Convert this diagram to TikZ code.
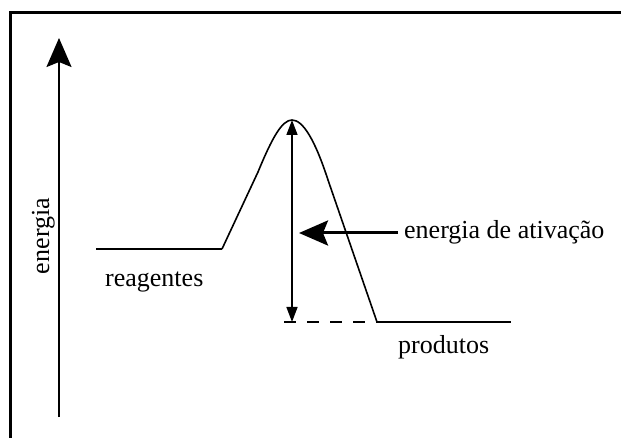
\documentclass[tikz,border=0pt]{standalone}
\usepackage{fontspec}
\setmainfont{Liberation Serif}
\usetikzlibrary{arrows.meta}

\begin{document}
\begin{tikzpicture}[x=1pt, y=-1pt,
    lbl/.style={font=\fontsize{26}{31}\selectfont, inner sep=0pt},
    level/.style={line width=2pt}]
  \useasboundingbox (0, 0) rectangle (621, 438);
  \draw [line width=3pt] (10.5, 438) -- (10.5, 12.5) -- (621, 12.5);

  % eixo de energia
  \coordinate (ybot) at (59, 417);
  \coordinate (ytop) at (59, 38);
  \draw [line width=2pt, -{Stealth[length=29pt, width=25pt, inset=5pt]}] (ybot) -- (ytop);
  \node [lbl, rotate=90, anchor=base] (energia) at (49, 236) {energia};

  % caminho da reacao
  \coordinate (rstart) at (96, 249);
  \coordinate (rend) at (222, 249);
  \coordinate (peak) at (292, 120);
  \coordinate (pstart) at (377, 322);
  \coordinate (pend) at (511, 322);
  \coordinate (pbase) at (292, 322);
  \coordinate (dstart) at (284, 322);
  \draw [level] (rstart) -- (rend);
  \draw [line width=1.6pt] (rend) -- (258, 172) .. controls (272, 138) and (282, 120) .. (peak)
    .. controls (303, 120) and (315, 140) .. (328, 180) -- (pstart);
  \draw [level] (pstart) -- (pend);
  \draw [level, dash pattern=on 12pt off 11pt] (dstart) -- (pstart);

  % energia de ativacao
  \draw [line width=1.5pt, {Triangle[length=15pt, width=11pt]}-{Triangle[length=15pt, width=11pt]}] (peak) -- (pbase);
  \coordinate (aend) at (398, 233);
  \coordinate (atip) at (299, 233);
  \draw [line width=3pt, -{Stealth[length=29pt, width=25pt, inset=5pt]}] (aend) -- (atip);

  \node [lbl, anchor=base west] (reagentes) at (105, 287) {reagentes};
  \node [lbl, anchor=base west] (produtos) at (398, 353) {produtos};
  \node [lbl, anchor=base west] (ativacao) at (404, 239) {energia de ativação};
\end{tikzpicture}
\end{document}
